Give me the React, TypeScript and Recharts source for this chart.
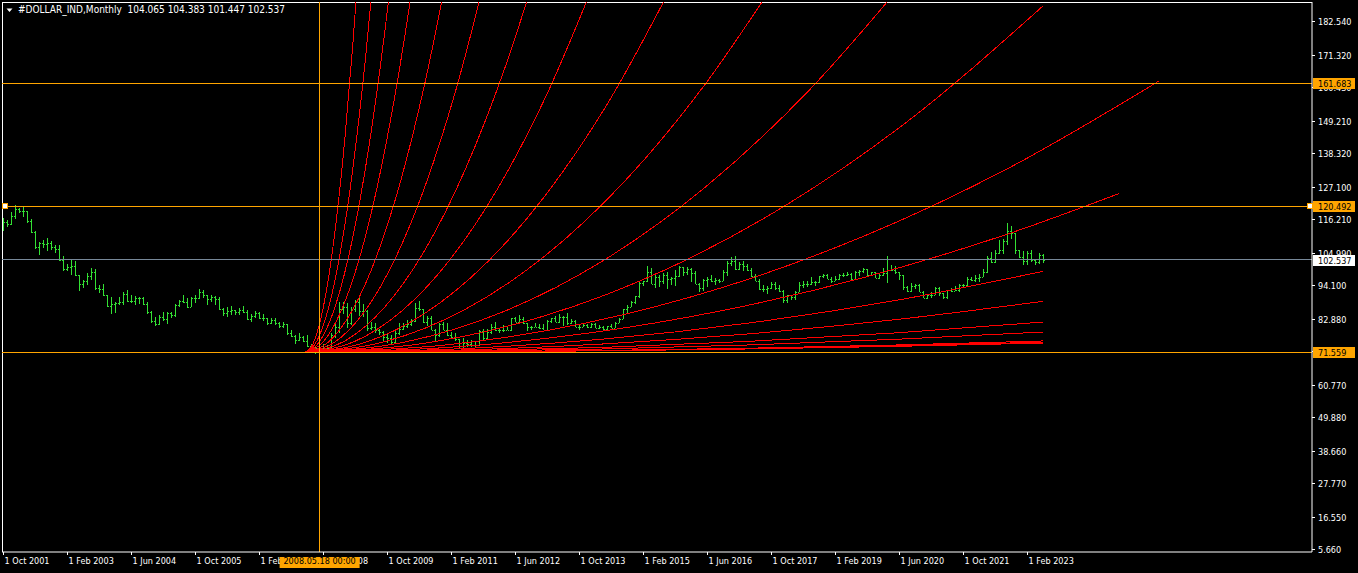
import {
  ComposedChart, Bar, Line, XAxis, YAxis, ReferenceLine, ReferenceDot,
} from 'recharts';

const W = 1358;
const H = 573;
const FONT = "'DejaVu Sans Condensed', 'Liberation Sans', sans-serif";
const GREEN = '#33e033';
const ORANGE = '#ffa500';
const RED = '#ff0000';
const SLATE = '#778899';

// monthly bars, index 0 = Oct 2001 ... 260 = Jun 2023
const opens = [
  113.2, 115.1, 114.7,
  117.2, 119.5, 119.0, 118.8, 115.4, 112.0, 106.9, 108.1, 107.9, 108.3, 107.0, 106.1,
  102.6, 99.6, 100.2, 100.6, 97.5, 94.3, 95.6, 97.0, 98.5, 93.1, 92.9, 90.6,
  87.0, 87.9, 88.0, 88.5, 91.2, 88.8, 88.9, 89.9, 89.6, 87.8, 85.0, 82.0,
  81.0, 83.3, 82.6, 84.8, 84.1, 87.4, 88.9, 88.3, 86.9, 89.6, 89.9, 91.9,
  90.6, 89.5, 90.2, 89.4, 86.0, 84.7, 85.3, 85.6, 85.0, 85.6, 84.9, 82.8,
  83.7, 84.6, 83.1, 82.9, 81.3, 82.3, 81.5, 80.3, 80.9, 78.0, 76.9, 75.6,
  76.7, 75.3, 73.6, 71.8, 72.9, 72.8, 72.4, 73.1, 77.2, 80.2, 86.0, 86.8,
  81.4, 86.2, 88.4, 85.5, 85.3, 79.8, 80.2, 78.9, 78.3, 76.8, 76.5, 74.9,
  77.9, 79.5, 80.3, 81.1, 82.0, 86.4, 86.0, 81.7, 83.2, 79.1, 77.4, 81.2,
  79.0, 77.5, 76.7, 75.9, 73.0, 74.6, 74.3, 74.1, 74.1, 78.6, 76.2, 78.4,
  80.2, 79.1, 78.9, 79.0, 78.9, 83.1, 81.6, 82.6, 81.3, 79.9, 80.0, 80.2,
  79.8, 79.2, 82.2, 83.0, 81.7, 83.3, 83.3, 81.5, 82.0, 80.2, 80.2, 80.7,
  80.0, 81.2, 79.7, 80.1, 79.5, 80.4, 79.8, 81.5, 82.8, 86.0, 86.9, 88.4,
  90.3, 94.8, 95.3, 98.4, 94.6, 96.9, 95.5, 97.3, 96.1, 96.4, 97.0, 100.2,
  98.6, 99.6, 98.2, 94.6, 93.1, 95.9, 96.1, 95.5, 95.9, 95.4, 98.4, 101.5,
  102.2, 99.5, 101.1, 100.4, 99.0, 97.0, 95.6, 92.9, 92.7, 93.1, 94.6, 93.0,
  92.1, 89.1, 90.6, 90.0, 91.8, 94.0, 94.5, 94.5, 95.1, 95.1, 97.1, 97.3,
  96.2, 95.6, 96.2, 97.3, 97.5, 97.8, 96.1, 98.5, 98.9, 99.4, 97.4, 98.3,
  96.4, 97.4, 98.1, 99.0, 99.0, 98.3, 97.4, 93.3, 92.1, 93.9, 94.0, 91.9,
  89.9, 90.6, 90.9, 93.2, 91.3, 90.0, 92.4, 92.2, 92.6, 94.2, 94.1, 96.0,
  95.7, 96.5, 96.7, 98.3, 103.0, 101.8, 104.7, 105.9, 108.7, 112.1, 111.5, 105.9,
  103.5, 102.1, 104.9, 102.5, 101.7, 104.065,
];
const highs = [
  116.5, 115.8, 118.7,
  120.9, 119.8, 120.1, 118.9, 116.1, 112.2, 108.6, 109.2, 109.7, 108.9, 107.4, 107.5,
  103.8, 101.1, 102.5, 102.3, 97.6, 95.9, 98.0, 99.7, 99.5, 94.1, 94.3, 90.8,
  90.2, 88.4, 90.0, 91.9, 92.5, 90.8, 90.4, 90.2, 90.0, 88.5, 85.5, 83.5,
  84.1, 85.2, 85.2, 85.0, 87.8, 89.1, 90.8, 89.7, 90.2, 90.8, 92.7, 92.5,
  90.8, 90.8, 90.4, 90.0, 86.3, 86.9, 87.1, 85.8, 86.3, 87.1, 85.8, 84.4,
  85.5, 84.9, 84.4, 83.0, 83.0, 83.0, 81.8, 81.8, 81.0, 79.0, 77.4, 77.9,
  77.1, 77.4, 74.3, 73.8, 74.2, 74.4, 73.9, 77.9, 81.4, 88.5, 88.4, 88.0,
  86.6, 89.1, 89.6, 87.8, 85.6, 81.8, 81.3, 79.5, 78.7, 77.9, 77.4, 79.0,
  81.3, 81.4, 82.4, 82.6, 88.1, 88.7, 86.1, 83.6, 83.6, 79.5, 81.5, 81.8,
  81.4, 78.4, 77.9, 76.1, 76.4, 75.7, 75.8, 75.4, 79.0, 79.4, 79.5, 81.0,
  81.8, 79.8, 80.7, 80.3, 83.2, 83.3, 84.1, 83.3, 81.4, 80.4, 81.3, 81.0,
  80.9, 82.3, 83.2, 83.6, 84.5, 83.8, 84.8, 82.6, 82.3, 80.9, 81.5, 81.0,
  81.5, 81.3, 80.6, 80.4, 80.5, 81.0, 81.6, 82.9, 86.2, 87.3, 88.8, 90.4,
  95.5, 95.5, 100.4, 99.8, 97.5, 97.6, 98.0, 98.3, 96.9, 99.1, 100.5, 100.3,
  100.0, 99.9, 98.9, 94.9, 96.0, 96.7, 97.6, 96.4, 96.1, 99.1, 102.0, 103.6,
  103.8, 101.8, 102.3, 101.0, 99.7, 97.8, 96.2, 94.1, 93.7, 95.2, 95.1, 94.2,
  92.6, 90.9, 90.7, 92.0, 95.0, 95.5, 95.6, 96.9, 95.5, 97.2, 97.7, 97.7,
  96.9, 97.0, 97.7, 98.0, 98.4, 98.0, 98.7, 99.0, 99.7, 99.6, 98.5, 98.4,
  98.2, 99.9, 103.9, 100.9, 100.6, 98.4, 97.6, 93.9, 94.7, 94.3, 94.3, 92.0,
  91.0, 91.6, 93.4, 93.4, 91.4, 92.5, 93.2, 93.7, 94.5, 94.6, 96.9, 96.9,
  97.4, 97.7, 99.4, 103.9, 105.0, 105.8, 109.3, 109.5, 115.0, 113.9, 111.6, 106.0,
  105.6, 105.4, 105.9, 102.8, 104.7, 104.383,
];
const lows = [
  112.0, 113.6, 114.5,
  116.1, 118.1, 116.8, 114.8, 111.4, 106.1, 104.2, 106.4, 105.3, 105.8, 104.7, 102.3,
  98.9, 98.6, 97.5, 97.2, 92.2, 93.1, 94.1, 95.8, 92.5, 91.3, 90.2, 86.7,
  84.6, 84.8, 87.4, 87.4, 88.5, 88.0, 87.4, 87.7, 87.4, 84.6, 81.5, 80.4,
  80.7, 82.2, 81.3, 83.0, 83.5, 86.9, 88.0, 86.3, 86.8, 88.0, 89.3, 89.7,
  87.4, 88.5, 87.4, 85.5, 83.5, 83.5, 84.1, 84.1, 84.1, 84.6, 82.4, 81.8,
  83.0, 82.6, 82.2, 80.7, 81.0, 80.7, 79.9, 79.9, 77.4, 76.6, 74.3, 75.2,
  75.1, 73.4, 71.3, 71.0, 72.0, 72.0, 71.4, 72.8, 76.3, 78.0, 84.3, 79.6,
  80.7, 85.0, 83.5, 83.5, 78.5, 79.0, 78.0, 77.4, 75.1, 74.6, 74.3, 74.5,
  77.3, 79.0, 79.6, 80.1, 81.8, 85.2, 81.5, 80.1, 78.9, 75.6, 76.8, 79.0,
  76.9, 76.4, 75.3, 72.9, 72.7, 73.5, 73.4, 73.4, 73.8, 75.6, 76.0, 77.5,
  78.9, 78.1, 78.5, 78.8, 78.7, 81.5, 81.4, 81.1, 78.6, 79.0, 79.8, 79.2,
  79.0, 79.0, 81.6, 81.6, 81.5, 80.5, 80.9, 80.9, 79.9, 79.0, 80.0, 79.8,
  79.9, 79.5, 79.2, 79.2, 78.9, 79.7, 79.7, 81.3, 82.7, 84.5, 86.8, 87.7,
  89.9, 93.7, 95.1, 94.4, 93.1, 93.5, 94.4, 92.6, 94.1, 93.8, 96.7, 97.2,
  97.4, 95.2, 94.5, 91.9, 91.9, 93.4, 95.4, 94.1, 94.7, 95.3, 96.9, 100.6,
  99.2, 99.2, 99.0, 98.8, 96.8, 95.5, 92.5, 91.6, 91.0, 92.7, 92.5, 91.9,
  88.3, 88.2, 88.9, 89.0, 91.7, 93.2, 93.7, 94.1, 93.8, 94.9, 96.2, 96.0,
  95.0, 95.3, 95.7, 96.7, 96.9, 95.8, 95.8, 97.1, 98.1, 96.9, 97.1, 96.3,
  96.3, 97.3, 94.7, 98.8, 97.9, 95.7, 92.5, 92.0, 91.7, 92.5, 91.7, 89.6,
  89.2, 89.7, 90.6, 90.4, 89.5, 89.5, 91.8, 92.0, 91.9, 93.3, 93.9, 95.6,
  95.2, 95.1, 96.6, 98.3, 101.3, 101.6, 104.6, 104.6, 107.7, 109.5, 104.5, 103.4,
  101.0, 100.8, 101.9, 100.8, 101.0, 101.447,
];
const closes = [
  115.1, 114.7, 117.2,
  119.5, 119.0, 118.8, 115.4, 112.0, 106.9, 108.1, 107.9, 108.3, 107.0, 106.1, 102.6,
  99.6, 100.2, 100.6, 97.5, 94.3, 95.6, 97.0, 98.5, 93.1, 92.9, 90.6, 87.0,
  87.9, 88.0, 88.5, 91.2, 88.8, 88.9, 89.9, 89.6, 87.8, 85.0, 82.0, 81.0,
  83.3, 82.6, 84.8, 84.1, 87.4, 88.9, 88.3, 86.9, 89.6, 89.9, 91.9, 90.6,
  89.5, 90.2, 89.4, 86.0, 84.7, 85.3, 85.6, 85.0, 85.6, 84.9, 82.8, 83.7,
  84.6, 83.1, 82.9, 81.3, 82.3, 81.5, 80.3, 80.9, 78.0, 76.9, 75.6, 76.7,
  75.3, 73.6, 71.8, 72.9, 72.8, 72.4, 73.1, 77.2, 80.2, 86.0, 86.8, 81.4,
  86.2, 88.4, 85.5, 85.3, 79.8, 80.2, 78.9, 78.3, 76.8, 76.5, 74.9, 77.9,
  79.5, 80.3, 81.1, 82.0, 86.4, 86.0, 81.7, 83.2, 79.1, 77.4, 81.2, 79.0,
  77.5, 76.7, 75.9, 73.0, 74.6, 74.3, 74.1, 74.1, 78.6, 76.2, 78.4, 80.2,
  79.1, 78.9, 79.0, 78.9, 83.1, 81.6, 82.6, 81.3, 79.9, 80.0, 80.2, 79.8,
  79.2, 82.2, 83.0, 81.7, 83.3, 83.3, 81.5, 82.0, 80.2, 80.2, 80.7, 80.0,
  81.2, 79.7, 80.1, 79.5, 80.4, 79.8, 81.5, 82.8, 86.0, 86.9, 88.4, 90.3,
  94.8, 95.3, 98.4, 94.6, 96.9, 95.5, 97.3, 96.1, 96.4, 97.0, 100.2, 98.6,
  99.6, 98.2, 94.6, 93.1, 95.9, 96.1, 95.5, 95.9, 95.4, 98.4, 101.5, 102.2,
  99.5, 101.1, 100.4, 99.0, 97.0, 95.6, 92.9, 92.7, 93.1, 94.6, 93.0, 92.1,
  89.1, 90.6, 90.0, 91.8, 94.0, 94.5, 94.5, 95.1, 95.1, 97.1, 97.3, 96.2,
  95.6, 96.2, 97.3, 97.5, 97.8, 96.1, 98.5, 98.9, 99.4, 97.4, 98.3, 96.4,
  97.4, 98.1, 99.0, 99.0, 98.3, 97.4, 93.3, 92.1, 93.9, 94.0, 91.9, 89.9,
  90.6, 90.9, 93.2, 91.3, 90.0, 92.4, 92.2, 92.6, 94.2, 94.1, 96.0, 95.7,
  96.5, 96.7, 98.3, 103.0, 101.8, 104.7, 105.9, 108.7, 112.1, 111.5, 105.9, 103.5,
  102.1, 104.9, 102.5, 101.7, 104.1, 102.537,
];

// time axis: every 16th bar is labelled
const xTickIdx = [0, 16, 32, 48, 64, 80, 96, 112, 128, 144, 160, 176, 192, 208, 224, 240, 256];
const xTickLabels = [
  '1 Oct 2001', '1 Feb 2003', '1 Jun 2004', '1 Oct 2005', '1 Feb 2007', '1 Jun 2008',
  '1 Oct 2009', '1 Feb 2011', '1 Jun 2012', '1 Oct 2013', '1 Feb 2015', '1 Jun 2016',
  '1 Oct 2017', '1 Feb 2019', '1 Jun 2020', '1 Oct 2021', '1 Feb 2023',
];
const yTicks = [
  5.66, 16.55, 27.77, 38.66, 49.88, 60.77, 71.99, 82.88, 94.1,
  104.99, 116.21, 127.1, 138.32, 149.21, 160.43, 171.32, 182.54,
];

const X_MIN = -0.4;
const X_MAX = 327.1;
const Y_MIN = 4.66;
const Y_MAX = 188.92;

const LEVEL_TOP = 161.683;
const LEVEL_SEL = 120.492;
const LEVEL_LOW = 71.559;
const MARK_IDX = 79; // 2008.05.18
const MARK_TEXT = '2008.05.18 00:00';
const SEL_ENDS = [0.43, 326.5];

// fan of curves from the 2008 low: [bar index, price]
const fan01 = [[75.35, 71.559], [77.35, 74.45], [79.35, 83.1], [81.35, 97.53], [83.35, 117.74], [85.35, 143.71], [87.35, 175.46], [88.85, 203.06]];
const fan02 = [[75.35, 71.559], [78.35, 75.43], [81.35, 87.05], [84.35, 106.42], [87.35, 133.54], [90.35, 168.4], [92.85, 203.37]];
const fan03 = [[75.35, 71.559], [78.85, 74.87], [82.35, 84.79], [85.85, 101.34], [89.35, 124.5], [92.85, 154.28], [96.35, 190.67], [97.85, 208.3]];
const fan04 = [[75.35, 71.559], [79.85, 75.01], [84.35, 85.35], [88.85, 102.58], [93.35, 126.7], [97.85, 157.72], [102.35, 195.64], [103.35, 205.0]];
const fan05 = [[75.35, 71.559], [81.35, 75.17], [87.35, 86.02], [93.35, 104.09], [99.35, 129.39], [105.35, 161.92], [111.35, 201.68]];
const fan06 = [[75.35, 71.559], [82.85, 75.03], [90.35, 85.45], [97.85, 102.82], [105.35, 127.14], [112.85, 158.4], [121.35, 202.22]];
const fan07 = [[75.35, 71.559], [85.35, 75.38], [95.35, 86.82], [105.35, 105.9], [115.35, 132.62], [125.35, 166.96], [133.35, 199.93]];
const fan08 = [[75.35, 71.559], [87.35, 74.96], [99.35, 85.18], [111.35, 102.2], [123.35, 126.03], [135.35, 156.66], [149.35, 201.01]];
const fan09 = [[75.35, 71.559], [90.35, 74.84], [105.35, 84.66], [120.35, 101.04], [135.35, 123.98], [150.35, 153.46], [169.35, 200.21]];
const fan10 = [[75.35, 71.559], [95.35, 75.15], [115.35, 85.92], [135.35, 103.86], [155.35, 128.99], [175.35, 161.29], [194.35, 198.63]];
const fan11 = [[75.35, 71.559], [100.35, 75.01], [125.35, 85.38], [150.35, 102.64], [175.35, 126.82], [200.35, 157.9], [227.35, 199.23]];
const fan12 = [[75.35, 71.559], [105.35, 74.63], [135.35, 83.83], [165.35, 99.17], [195.35, 120.65], [225.35, 148.26], [259.75, 187.48]];
const fan13 = [[75.35, 71.559], [110.35, 74.0], [145.35, 81.33], [180.35, 93.54], [215.35, 110.64], [250.35, 132.63], [288.75, 162.37]];
const fan14 = [[75.35, 71.559], [110.35, 73.13], [145.35, 77.85], [180.35, 85.72], [215.35, 96.73], [250.35, 110.88], [278.75, 124.68]];

const lowFanX = [75.35, 112.35, 149.35, 186.35, 223.35, 259.75];
const fan15 = [71.559, 72.65, 75.92, 81.38, 89.02, 98.66];
const fan16 = [71.559, 72.25, 74.31, 77.75, 82.56, 88.63];
const fan17 = [71.559, 71.97, 73.19, 75.23, 78.09, 81.69];
const fan18 = [71.559, 71.83, 72.66, 74.02, 75.94, 78.36];
const fan19 = [71.559, 71.71, 72.17, 72.94, 74.01, 75.36];
const fan20 = [71.559, 71.7, 72.11, 72.79, 73.75, 74.96];
const fan21 = [71.559, 71.68, 72.06, 72.68, 73.56, 74.66];

const bars = opens.map((o, i) => ({ x: i, o, h: highs[i], l: lows[i], c: closes[i] }));

const fanCurves = [
  ...[fan01, fan02, fan03, fan04, fan05, fan06, fan07, fan08, fan09, fan10, fan11, fan12, fan13, fan14]
    .map((pts) => pts.map(([x, v]) => ({ x, v }))),
  ...[fan15, fan16, fan17, fan18, fan19, fan20, fan21]
    .map((vals) => vals.map((v, i) => ({ x: lowFanX[i], v }))),
];

const last = opens.length - 1;

// price tags on the right scale (drawn after the plain tick labels so they sit on top)
const priceTags = [
  { v: closes[last], bg: '#fff' },
  { v: LEVEL_TOP, bg: ORANGE },
  { v: LEVEL_SEL, bg: ORANGE },
  { v: LEVEL_LOW, bg: ORANGE },
];
const yTickAll = [...yTicks, ...priceTags.map((t) => t.v)];
const xTickAll = [...xTickIdx, MARK_IDX];

const OhlcShape = (props: any) => {
  const { x, y, width, height, payload } = props;
  if (x == null || y == null || !payload) return null;
  const { o, h, l, c } = payload;
  const k = h === l ? 0 : height / (h - l);
  const px = Math.floor(x + width / 2);
  const yo = Math.round(y + (h - o) * k);
  const yc = Math.round(y + (h - c) * k);
  return (
    <g fill={GREEN} shapeRendering="crispEdges">
      <rect x={px} y={Math.round(y)} width={1} height={Math.max(1, Math.round(height))} />
      <rect x={px - 1} y={yo} width={1} height={1} />
      <rect x={px + 1} y={yc} width={1} height={1} />
    </g>
  );
};

const PriceTick = (props: any) => {
  const { x, y, payload } = props;
  const tag = priceTags.find((t) => t.v === payload.value);
  const yy = Math.round(y);
  if (tag) {
    return (
      <g>
        <rect x={x - 5} y={yy - 5} width={42} height={11} fill={tag.bg} />
        <text x={x} y={yy + 0.5} dy="0.355em" fontSize={9} fontFamily={FONT} fill="#000">{tag.v.toFixed(3)}</text>
      </g>
    );
  }
  return (
    <g>
      <line x1={x - 6} x2={x - 3} y1={yy + 0.5} y2={yy + 0.5} stroke="#fff" shapeRendering="crispEdges" />
      <text x={x} y={yy + 0.5} dy="0.355em" fontSize={9} fontFamily={FONT} fill="#fff">{payload.value.toFixed(3)}</text>
    </g>
  );
};

const TimeTick = (props: any) => {
  const { x, y, payload } = props;
  if (payload.value === MARK_IDX) {
    return (
      <g>
        <rect x={x - 40} y={y - 1} width={80} height={11} fill={ORANGE} />
        <text x={x} y={y} dy="0.71em" textAnchor="middle" fontSize={9} fontFamily={FONT} fill="#000">{MARK_TEXT}</text>
      </g>
    );
  }
  const px = Math.floor(x) + 0.5;
  return (
    <g>
      <line x1={px} x2={px} y1={y - 6} y2={y - 3} stroke="#fff" shapeRendering="crispEdges" />
      <text x={x + 1} y={y} dy="0.71em" textAnchor="start" fontSize={9} fontFamily={FONT} fill="#fff">
        {xTickLabels[xTickIdx.indexOf(payload.value)]}
      </text>
    </g>
  );
};

const Handle = (p: any) => (
  <rect x={Math.round(p.cx) - 2.5} y={Math.round(p.cy) - 2.5} width={5} height={5} fill="#fff" stroke={ORANGE} strokeWidth={1} />
);

const title = `#DOLLAR_IND,Monthly  ${opens[last].toFixed(3)} ${highs[last].toFixed(3)} ${lows[last].toFixed(3)} ${closes[last].toFixed(3)}`;

export default function App() {
  return (
    <div style={{ position: 'absolute', left: 0, top: 0, width: W, height: H, background: '#000', overflow: 'hidden' }}>
      <ComposedChart width={W} height={H} data={bars} margin={{ top: 2, right: 0, bottom: 0, left: 2 }}>
        <XAxis
          dataKey="x"
          type="number"
          domain={[X_MIN, X_MAX]}
          allowDataOverflow
          ticks={xTickAll}
          interval={0}
          height={21}
          axisLine={{ stroke: '#fff' }}
          tickLine={false}
          tickSize={3}
          tickMargin={3}
          tick={(p: any) => <TimeTick {...p} />}
        />
        <YAxis
          orientation="right"
          type="number"
          domain={[Y_MIN, Y_MAX]}
          allowDataOverflow
          ticks={yTickAll}
          interval={0}
          width={46}
          axisLine={{ stroke: '#fff' }}
          tickLine={false}
          tickSize={3}
          tickMargin={3}
          tick={(p: any) => <PriceTick {...p} />}
        />
        <ReferenceLine x={X_MIN} stroke="#fff" shapeRendering="crispEdges" />
        <ReferenceLine y={Y_MAX} stroke="#fff" shapeRendering="crispEdges" />

        <Bar dataKey={(d: any) => [d.l, d.h]} barSize={3} shape={(p: any) => <OhlcShape {...p} />} isAnimationActive={false} />

        {fanCurves.map((pts, i) => (
          <Line
            key={i}
            data={pts}
            dataKey="v"
            type="monotone"
            stroke={RED}
            strokeWidth={1}
            shapeRendering="crispEdges"
            dot={false}
            activeDot={false}
            isAnimationActive={false}
          />
        ))}

        <ReferenceLine y={closes[last]} stroke={SLATE} shapeRendering="crispEdges" />
        <ReferenceLine y={LEVEL_TOP} stroke={ORANGE} shapeRendering="crispEdges" />
        <ReferenceLine y={LEVEL_SEL} stroke={ORANGE} shapeRendering="crispEdges" />
        <ReferenceLine y={LEVEL_LOW} stroke={ORANGE} shapeRendering="crispEdges" />
        <ReferenceLine x={MARK_IDX} stroke={ORANGE} shapeRendering="crispEdges" />
        {SEL_ENDS.map((x) => (
          <ReferenceDot key={x} x={x} y={LEVEL_SEL} shape={(p: any) => <Handle {...p} />} />
        ))}
      </ComposedChart>

      <div style={{ position: 'absolute', left: 0, top: 0, pointerEvents: 'none' }}>
        <svg width={14} height={16} style={{ position: 'absolute', left: 0, top: 0 }}>
          <polygon points="6.5,8.5 12.5,8.5 9.5,12" fill="#fff" />
        </svg>
        <div style={{
          position: 'absolute', left: 18, top: 4, whiteSpace: 'pre', color: '#fff',
          fontFamily: FONT, fontSize: 10, lineHeight: '12px',
        }}>
          {title}
        </div>
      </div>
    </div>
  );
}
